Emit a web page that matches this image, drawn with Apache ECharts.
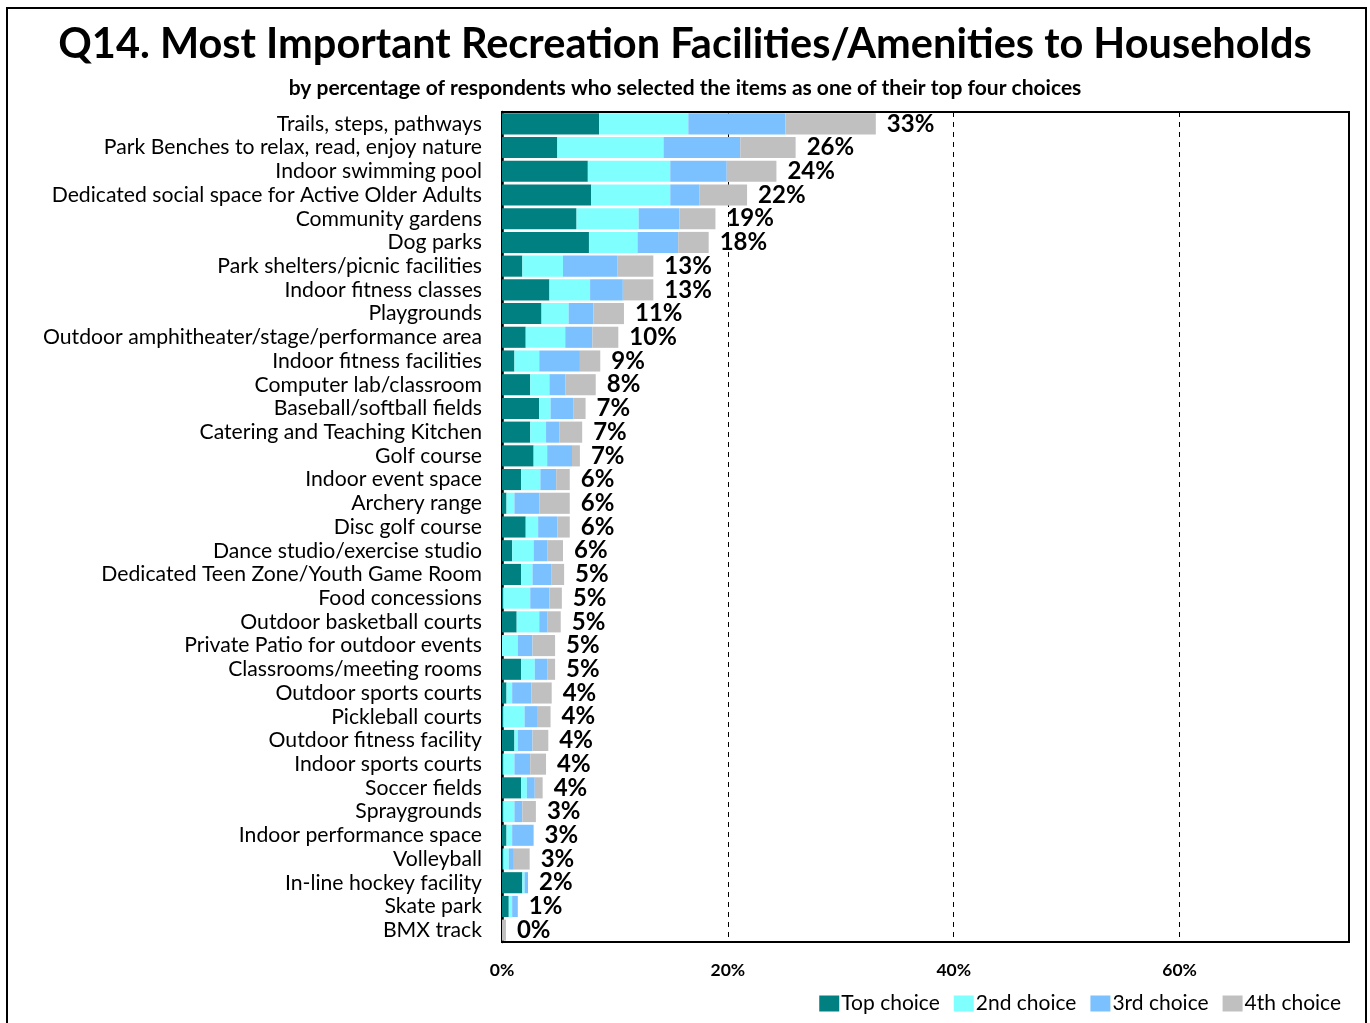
<!DOCTYPE html>
<html>
<head>
<meta charset="utf-8">
<title>Q14 Recreation Facilities</title>
<script src="https://cdn.jsdelivr.net/npm/echarts@6/dist/echarts.min.js"></script>
<style>
  html, body { margin: 0; padding: 0; background: #fff; }
  #chart { width: 1370px; height: 1023px; }
</style>
</head>
<body>
<div id="chart"></div>
<script>
// facilities, top to bottom
const categories = [
  'Trails, steps, pathways',
  'Park Benches to relax, read, enjoy nature',
  'Indoor swimming pool',
  'Dedicated social space for Active Older Adults',
  'Community gardens',
  'Dog parks',
  'Park shelters/picnic facilities',
  'Indoor fitness classes',
  'Playgrounds',
  'Outdoor amphitheater/stage/performance area',
  'Indoor fitness facilities',
  'Computer lab/classroom',
  'Baseball/softball fields',
  'Catering and Teaching Kitchen',
  'Golf course',
  'Indoor event space',
  'Archery range',
  'Disc golf course',
  'Dance studio/exercise studio',
  'Dedicated Teen Zone/Youth Game Room',
  'Food concessions',
  'Outdoor basketball courts',
  'Private Patio for outdoor events',
  'Classrooms/meeting rooms',
  'Outdoor sports courts',
  'Pickleball courts',
  'Outdoor fitness facility',
  'Indoor sports courts',
  'Soccer fields',
  'Spraygrounds',
  'Indoor performance space',
  'Volleyball',
  'In-line hockey facility',
  'Skate park',
  'BMX track'
];

const topChoice = [8.6, 4.9, 7.6, 7.9, 6.6, 7.7, 1.8, 4.2, 3.5, 2.1, 1.1, 2.5, 3.3, 2.5, 2.8, 1.7, 0.4, 2.1, 0.9, 1.7, 0.1, 1.3, 0, 1.7, 0.4, 0.1, 1.1, 0.1, 1.7, 0.1, 0.4, 0.1, 1.8, 0.6, 0];
const secondChoice = [7.9, 9.4, 7.3, 7.0, 5.5, 4.3, 3.6, 3.6, 2.4, 3.5, 2.2, 1.7, 1.0, 1.4, 1.2, 1.7, 0.7, 1.1, 1.9, 1.0, 2.4, 2.0, 1.4, 1.2, 0.5, 1.9, 0.3, 1.0, 0.5, 1.0, 0.5, 0.5, 0.2, 0.3, 0];
const thirdChoice = [8.6, 6.8, 5.0, 2.6, 3.6, 3.6, 4.8, 2.9, 2.2, 2.4, 3.6, 1.4, 2.0, 1.2, 2.2, 1.4, 2.2, 1.7, 1.2, 1.7, 1.7, 0.7, 1.3, 1.1, 1.7, 1.1, 1.3, 1.4, 0.7, 0.7, 1.9, 0.45, 0.3, 0.5, 0];
const fourthChoice = [8.0, 4.9, 4.4, 4.2, 3.2, 2.7, 3.2, 2.7, 2.7, 2.3, 1.8, 2.7, 1.1, 2.0, 0.7, 1.2, 2.7, 1.1, 1.4, 1.1, 1.1, 1.2, 2.0, 0.7, 1.8, 1.2, 1.4, 1.4, 0.7, 1.2, 0, 1.4, 0, 0, 0.35];

// rounded totals as printed at the end of each bar
const totals = [33, 26, 24, 22, 19, 18, 13, 13, 11, 10, 9, 8, 7, 7, 7, 6, 6, 6, 6, 5, 5, 5, 5, 5, 4, 4, 4, 4, 4, 3, 3, 3, 2, 1, 0];

const seriesNames = ['Top choice', '2nd choice', '3rd choice', '4th choice'];
const colors = ['#008080', '#80FFFF', '#7BC1FF', '#C0C0C0'];

const FONT = 'Lato';

const chart = echarts.init(document.getElementById('chart'));

const makeSeries = (name, data, idx) => {
  const s = {
    name: name,
    type: 'bar',
    stack: 'total',
    data: data,
    barCategoryGap: '11%',
    itemStyle: { color: colors[idx] },
    emphasis: { disabled: true },
    animation: false
  };
  if (idx === 3) {
    s.label = {
      show: true,
      position: 'right',
      distance: 11,
      formatter: (p) => totals[p.dataIndex] + '%',
      color: '#000',
      fontFamily: FONT,
      fontWeight: 'bold',
      fontSize: 24
    };
  }
  return s;
};

const option = {
  backgroundColor: '#fff',
  color: colors,
  title: [
    {
      text: 'Q14. Most Important Recreation Facilities/Amenities to Households',
      left: 'center',
      top: 19,
      textStyle: { fontFamily: FONT, fontWeight: 'bold', fontSize: 41.5, color: '#000' }
    },
    {
      text: 'by percentage of respondents who selected the items as one of their top four choices',
      left: 'center',
      top: 73,
      textStyle: { fontFamily: FONT, fontWeight: 'bold', fontSize: 21, color: '#000' }
    }
  ],
  graphic: [
    {
      type: 'rect',
      shape: { x: 7, y: 8, width: 1359, height: 1040 },
      style: { fill: 'none', stroke: '#000', lineWidth: 2 },
      silent: true
    }
  ],
  legend: {
    data: seriesNames,
    right: 24,
    top: 988,
    itemWidth: 20,
    itemHeight: 16,
    itemGap: 14,
    icon: 'rect',
    textStyle: { fontFamily: FONT, fontSize: 21, color: '#000', padding: [0, 0, 0, -3] }
  },
  grid: {
    left: 502,
    right: 21,
    top: 112,
    bottom: 81,
    show: true,
    borderColor: '#000',
    borderWidth: 2,
    containLabel: false
  },
  xAxis: {
    type: 'value',
    min: 0,
    max: 75,
    interval: 20,
    axisLine: { show: false },
    axisTick: { show: false },
    splitLine: { show: true, lineStyle: { color: '#000', type: [5, 5], width: 1 } },
    axisLabel: {
      margin: 19,
      color: '#000',
      fontFamily: FONT,
      fontWeight: 'bold',
      fontSize: 17.5,
      formatter: (v) => (v % 20 === 0 ? v + '%' : '')
    }
  },
  yAxis: {
    type: 'category',
    data: categories,
    inverse: true,
    axisLine: { show: true, lineStyle: { color: '#000', width: 2.5 } },
    axisTick: { show: false },
    axisLabel: {
      margin: 20,
      color: '#000',
      fontFamily: FONT,
      fontSize: 21.2,
      interval: 0
    }
  },
  series: [
    makeSeries(seriesNames[0], topChoice, 0),
    makeSeries(seriesNames[1], secondChoice, 1),
    makeSeries(seriesNames[2], thirdChoice, 2),
    makeSeries(seriesNames[3], fourthChoice, 3)
  ]
};

chart.setOption(option);
</script>
</body>
</html>
